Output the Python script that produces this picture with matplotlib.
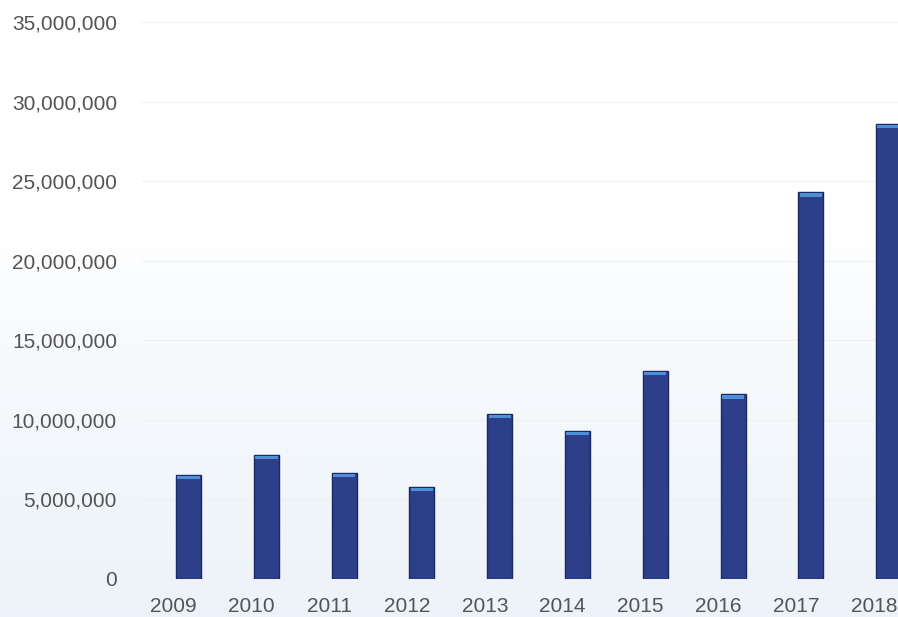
import numpy as np
import matplotlib
matplotlib.use("Agg")
import matplotlib.pyplot as plt
from matplotlib.ticker import FuncFormatter, MultipleLocator

# Annual totals
years = ["2009", "2010", "2011", "2012", "2013", "2014", "2015", "2016", "2017", "2018"]
values = [6_530_000, 7_780_000, 6_650_000, 5_780_000, 10_360_000,
          9_290_000, 13_060_000, 11_610_000, 24_300_000, 28_620_000]

plt.rcParams["font.family"] = ["Liberation Sans", "DejaVu Sans"]

fig = plt.figure(figsize=(8.98, 6.17), dpi=100)

# soft white-to-pale-blue backdrop
bg = fig.add_axes([0, 0, 1, 1], zorder=0)
grad = np.linspace(0, 1, 256)
grad = np.clip((grad - 0.38) / 0.62, 0, 1) ** 0.8
top = np.array([1.0, 1.0, 1.0])
bottom = np.array([0.925, 0.952, 0.978])
img = top + (bottom - top) * grad[:, None, None]
img = np.repeat(img, 2, axis=1)
bg.imshow(img, aspect="auto", extent=[0, 1, 0, 1], origin="upper")
bg.axis("off")

ax = fig.add_axes([0.158, 0.0616, 0.842, 0.9027], zorder=1)
ax.set_facecolor("none")

x = np.arange(len(years))
width = 0.32
ax.bar(x, values, width=width, color="#2c3f88", edgecolor="#1c2865",
       linewidth=1.0, zorder=3)

# lighter highlight strip along each bar top
cap_h = 200_000
cap_off = 270_000
ax.bar(x, [cap_h] * len(values), bottom=[v - cap_off for v in values],
       width=width * 0.9, color="#4f8fd8", linewidth=0, zorder=4)

ax.set_xlim(-0.6, 9.12)
ax.set_ylim(0, 35_000_000)
ax.yaxis.set_major_locator(MultipleLocator(5_000_000))
ax.yaxis.set_major_formatter(FuncFormatter(lambda v, p: f"{int(v):,}"))
# year labels sit slightly left of their bars
ax.set_xticks(x - 0.19)
ax.set_xticklabels(years)

ax.grid(axis="y", color="#eef1f4", linewidth=0.8, zorder=0)
ax.set_axisbelow(True)
for s in ax.spines.values():
    s.set_visible(False)

ax.tick_params(axis="y", length=0, pad=18, labelsize=15, labelcolor="#545454")
ax.tick_params(axis="x", length=0, pad=13, labelsize=15, labelcolor="#545454")

fig.savefig("out.png", dpi=100)
